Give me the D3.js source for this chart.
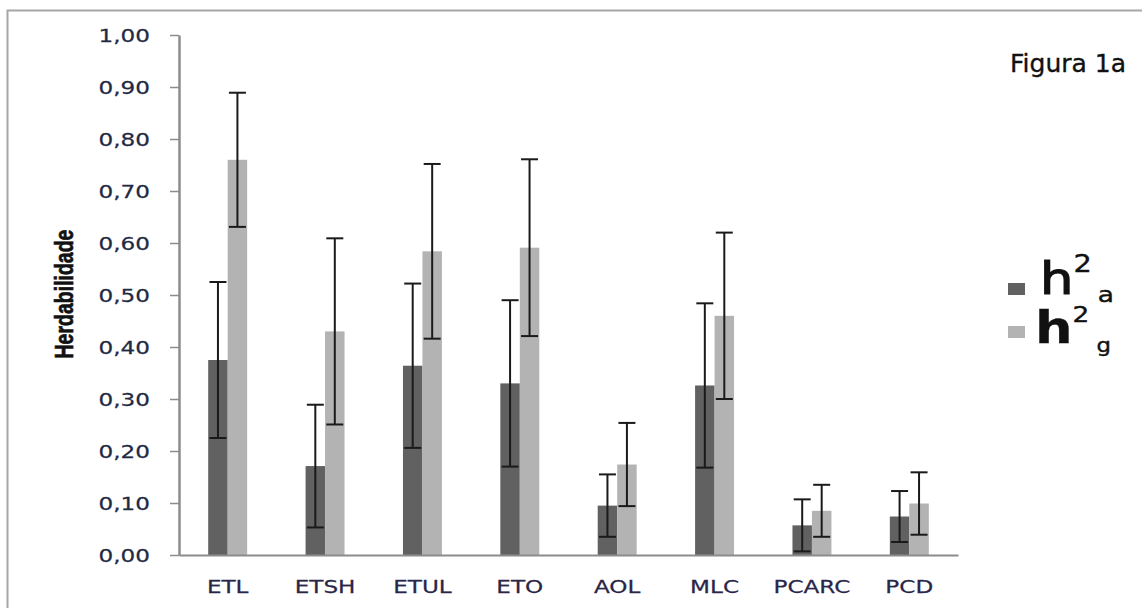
<!DOCTYPE html>
<html><head><meta charset="utf-8">
<script src="https://cdn.jsdelivr.net/npm/d3@7"></script>
<style>body{margin:0;background:#fff}svg{display:block}</style>
</head><body><svg id="c" width="1142" height="608"></svg>
<script>
const categories = ["ETL","ETSH","ETUL","ETO","AOL","MLC","PCARC","PCD"];
const h2a    = [0.375,0.171,0.364,0.330,0.095,0.326,0.057,0.074];
const h2aErr = [0.150,0.118,0.158,0.160,0.060,0.158,0.050,0.049];
const h2g    = [0.760,0.430,0.584,0.591,0.174,0.460,0.085,0.099];
const h2gErr = [0.129,0.179,0.168,0.170,0.080,0.160,0.050,0.060];
const yTicks = [0,0.1,0.2,0.3,0.4,0.5,0.6,0.7,0.8,0.9,1.0];
const seriesKeys = ["a","g"];
const seriesColors = ["#616161","#b3b3b3"];
const yTitle = "Herdabilidade";
const chartTitle = "Figura 1a";

(function(){
const svg = d3.select("#c");
const pLeft = 179, pRight = 958, pTop = 35, pBottom = 555;
const SX = 1.25;

// frame
svg.append("rect").attr("x",7.5).attr("y",10.5).attr("width",1300).attr("height",800)
  .attr("fill","none").attr("stroke","#a6a6a6").attr("stroke-width",2);

const y = d3.scaleLinear().domain([0,1]).range([pBottom, pTop]);
const x = d3.scaleBand().domain(categories).range([pLeft, pRight]).paddingInner(0.6).paddingOuter(0.3);
const xs = d3.scaleBand().domain(seriesKeys).range([0, x.bandwidth()]);

const fmt = v => d3.format(".2f")(v).replace(".", ",");

// y axis
const yAxis = svg.append("g").attr("transform",`translate(${pLeft},0)`)
  .call(d3.axisLeft(y).tickValues(yTicks).tickFormat(fmt).tickSize(9).tickSizeOuter(0));
yAxis.select(".domain").attr("stroke","#8c8c8c").attr("stroke-width",2.5);
yAxis.selectAll(".tick line").attr("stroke","#8c8c8c").attr("stroke-width",1.5);
yAxis.selectAll(".tick text")
  .attr("font-family","'DejaVu Sans', Verdana, sans-serif").attr("font-size",18.5)
  .attr("fill","#1f2a45").attr("stroke","#1f2a45").attr("stroke-width",0.25)
  .attr("text-anchor","end")
  .attr("x", -29/SX).attr("dy","0.36em").attr("transform",`scale(${SX},1)`);

const series = [
  {key:"a", vals:h2a, errs:h2aErr, color:seriesColors[0]},
  {key:"g", vals:h2g, errs:h2gErr, color:seriesColors[1]}
];

const bars = svg.append("g");
series.forEach(s => {
  bars.selectAll(null).data(categories).enter().append("rect")
    .attr("x", c => x(c) + xs(s.key))
    .attr("y", (c,i) => y(s.vals[i]))
    .attr("width", xs.bandwidth())
    .attr("height", (c,i) => y(0) - y(s.vals[i]))
    .attr("fill", s.color);
});

// x axis
const xAxis = svg.append("g").attr("transform",`translate(0,${pBottom})`)
  .call(d3.axisBottom(x).tickSize(0).tickSizeOuter(0).tickPadding(0));
xAxis.select(".domain").attr("stroke","#8c8c8c").attr("stroke-width",2);
xAxis.selectAll(".tick text")
  .attr("font-family","'DejaVu Sans', Verdana, sans-serif").attr("font-size",18.5)
  .attr("fill","#2a2648").attr("stroke","#2a2648").attr("stroke-width",0.25)
  .attr("y",38).attr("dy",0)
  .attr("transform",`scale(${SX},1)`);

// error bars
const eb = svg.append("g").attr("stroke","#1a1a1a").attr("stroke-width",2);
series.forEach(s => {
  categories.forEach((c,i) => {
    const cx = x(c) + xs(s.key) + xs.bandwidth()/2;
    const y1 = y(s.vals[i] + s.errs[i]), y0 = y(s.vals[i] - s.errs[i]);
    eb.append("line").attr("x1",cx).attr("x2",cx).attr("y1",y1).attr("y2",y0);
    eb.append("line").attr("x1",cx-8.5).attr("x2",cx+8.5).attr("y1",y1).attr("y2",y1);
    eb.append("line").attr("x1",cx-8.5).attr("x2",cx+8.5).attr("y1",y0).attr("y2",y0);
  });
});

// y title
svg.append("text").text(yTitle)
  .attr("transform",`translate(73,294) scale(1.3,1) rotate(-90)`)
  .attr("text-anchor","middle")
  .attr("font-family","'Liberation Sans', Arial, sans-serif").attr("font-weight","bold")
  .attr("font-size",19.5).attr("fill","#111").attr("stroke","#111").attr("stroke-width",0.5);

// chart title
svg.append("text").text(chartTitle).attr("x",1010).attr("y",72)
  .attr("font-family","'DejaVu Sans', Verdana, sans-serif").attr("font-size",25)
  .attr("fill","#111").attr("stroke","#111").attr("stroke-width",0.35);

// legend
const legend = [
  {sq:283, tx:1040, base:294, sup:-22, sub:30, subdx:5, subSize:22, supSize:24, hw:"normal", sw:1.2},
  {sq:326, tx:1035, base:343, sup:-21, sub:30, subdx:6, subSize:19, supSize:22, hw:"bold", sw:0.3}
];
legend.forEach((l,i) => {
  svg.append("rect").attr("x",1008).attr("y",l.sq).attr("width",17).attr("height",12)
    .attr("fill",seriesColors[i]);
  const t = svg.append("text").attr("transform",`translate(${l.tx},${l.base}) scale(1.2,1)`)
    .attr("font-family","'DejaVu Sans', Verdana, sans-serif")
    .attr("fill","#111").attr("stroke","#111").attr("stroke-width",0.4);
  t.append("tspan").attr("font-size",44).attr("font-weight",l.hw).attr("stroke-width",l.sw).text("h");
  t.append("tspan").attr("font-size",l.supSize).attr("dy",l.sup).text("2");
  t.append("tspan").attr("font-size",l.subSize).attr("dy",l.sub).attr("dx",l.subdx).text(seriesKeys[i]);
});
})();
</script></body></html>
